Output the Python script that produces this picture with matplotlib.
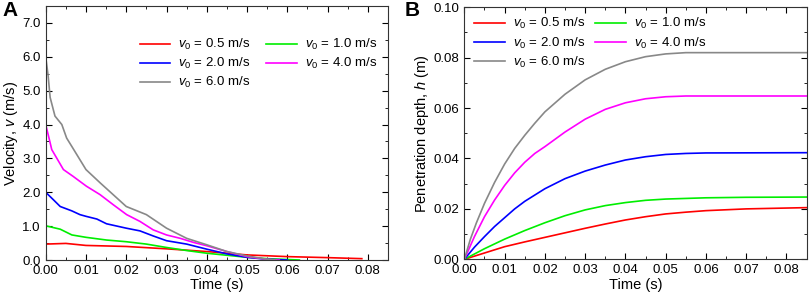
import matplotlib
matplotlib.use('Agg')
import matplotlib.pyplot as plt
from matplotlib.ticker import MultipleLocator, FormatStrFormatter

plt.rcParams['font.family'] = ['Liberation Sans', 'DejaVu Sans']
plt.rcParams['mathtext.fontset'] = 'custom'
plt.rcParams['mathtext.rm'] = 'Liberation Sans'
plt.rcParams['mathtext.it'] = 'Liberation Sans:italic'

labels = ['$v_0$ = 0.5 m/s', '$v_0$ = 1.0 m/s', '$v_0$ = 2.0 m/s',
          '$v_0$ = 4.0 m/s', '$v_0$ = 6.0 m/s']
colors = ['#ff0000', '#00ee00', '#0000ff', '#ff00ff', '#888888']

# panel A: velocity vs time
tA_05 = [0, 0.005, 0.01, 0.02, 0.03, 0.04, 0.05, 0.06, 0.07, 0.0785]
vA_05 = [0.47, 0.49, 0.43, 0.40, 0.33, 0.25, 0.15, 0.10, 0.07, 0.04]
tA_10 = [0, 0.0036, 0.0065, 0.01, 0.0151, 0.02, 0.025, 0.03, 0.035, 0.04, 0.045, 0.05, 0.055, 0.063]
vA_10 = [1.01, 0.91, 0.74, 0.67, 0.59, 0.54, 0.47, 0.37, 0.28, 0.20, 0.14, 0.08, 0.04, 0.0]
tA_20 = [0, 0.0019, 0.0036, 0.0065, 0.0085, 0.01, 0.0127, 0.0151, 0.02, 0.0234, 0.0267,
         0.03, 0.035, 0.04, 0.045, 0.05, 0.055, 0.06]
vA_20 = [2.0, 1.78, 1.58, 1.45, 1.34, 1.29, 1.21, 1.07, 0.94, 0.86, 0.71,
         0.57, 0.47, 0.32, 0.18, 0.08, 0.02, 0.0]
tA_40 = [0, 0.001, 0.0015, 0.0044, 0.0068, 0.0101, 0.0135, 0.0168, 0.0201, 0.0234, 0.0267,
         0.03, 0.0334, 0.0367, 0.04, 0.045, 0.05, 0.055, 0.058]
vA_40 = [4.0, 3.51, 3.26, 2.67, 2.47, 2.18, 1.93, 1.63, 1.34, 1.14, 0.89,
         0.74, 0.64, 0.52, 0.42, 0.25, 0.10, 0.02, 0.0]
tA_60 = [0, 0.0006, 0.0011, 0.0023, 0.004, 0.0052, 0.0065, 0.01, 0.0135, 0.02, 0.025,
         0.03, 0.035, 0.04, 0.045, 0.05, 0.055, 0.057]
vA_60 = [6.0, 5.44, 4.80, 4.25, 4.0, 3.6, 3.35, 2.67, 2.28, 1.58, 1.34,
         0.94, 0.64, 0.45, 0.25, 0.12, 0.02, 0.0]

# panel B: penetration depth vs time
tB_05 = [0, 0.005, 0.01, 0.015, 0.02, 0.025, 0.03, 0.035, 0.04, 0.045, 0.05, 0.055, 0.06, 0.07, 0.085]
hB_05 = [0, 0.0025, 0.0050, 0.0069, 0.0087, 0.0105, 0.0123, 0.0140, 0.0156, 0.0169,
         0.0180, 0.0187, 0.0193, 0.0200, 0.0205]
tB_10 = [0, 0.005, 0.01, 0.015, 0.02, 0.025, 0.03, 0.035, 0.04, 0.045, 0.05, 0.06, 0.07, 0.085]
hB_10 = [0, 0.0042, 0.0080, 0.0114, 0.0145, 0.0173, 0.0196, 0.0213, 0.0225, 0.0234,
         0.0239, 0.0244, 0.0246, 0.0247]
tB_20 = [0, 0.0025, 0.005, 0.0075, 0.01, 0.0125, 0.015, 0.02, 0.025, 0.03, 0.035, 0.04,
         0.045, 0.05, 0.055, 0.06, 0.085]
hB_20 = [0, 0.0048, 0.0090, 0.0130, 0.0165, 0.0200, 0.0230, 0.0280, 0.0320, 0.0350,
         0.0374, 0.0394, 0.0407, 0.0416, 0.0420, 0.0422, 0.0423]
tB_40 = [0, 0.0025, 0.005, 0.0075, 0.01, 0.0125, 0.015, 0.0175, 0.02, 0.025, 0.03, 0.035,
         0.04, 0.045, 0.05, 0.055, 0.06, 0.085]
hB_40 = [0, 0.0090, 0.0169, 0.0235, 0.0293, 0.0343, 0.0385, 0.0420, 0.0447, 0.0505,
         0.0556, 0.0595, 0.0621, 0.0637, 0.0645, 0.0648, 0.0648, 0.0648]
tB_60 = [0, 0.0015, 0.003, 0.005, 0.0075, 0.01, 0.0125, 0.015, 0.0175, 0.02, 0.025, 0.03,
         0.035, 0.04, 0.045, 0.05, 0.055, 0.06, 0.085]
hB_60 = [0, 0.0080, 0.0145, 0.0222, 0.0305, 0.0378, 0.0440, 0.0492, 0.0540, 0.0585,
         0.0655, 0.0712, 0.0754, 0.0784, 0.0804, 0.0815, 0.0820, 0.0820, 0.0820]

fig = plt.figure(figsize=(8.09, 3.0), dpi=100)
axA = fig.add_axes([0.0565, 0.1333, 0.4231, 0.8467])
axB = fig.add_axes([0.574, 0.1357, 0.423, 0.84])

seriesA = [(tA_05, vA_05), (tA_10, vA_10), (tA_20, vA_20), (tA_40, vA_40), (tA_60, vA_60)]
seriesB = [(tB_05, hB_05), (tB_10, hB_10), (tB_20, hB_20), (tB_40, hB_40), (tB_60, hB_60)]

for (t, v), c, lab in zip(seriesA, colors, labels):
    axA.plot(t, v, color=c, lw=1.2, label=lab)
for (t, h), c, lab in zip(seriesB, colors, labels):
    axB.plot(t, h, color=c, lw=1.2, label=lab)

for ax in (axA, axB):
    ax.set_xlim(0, 0.085)
    ax.xaxis.set_major_locator(MultipleLocator(0.01))
    ax.xaxis.set_minor_locator(MultipleLocator(0.005))
    ax.xaxis.set_major_formatter(FormatStrFormatter('%.2f'))
    ax.tick_params(which='both', direction='in', top=True, right=True, labelsize=9.5)
    ax.tick_params(which='major', length=4)
    ax.tick_params(which='minor', length=2.5)
    for s in ax.spines.values():
        s.set_color('#333333')
    ax.set_xlabel('Time (s)', fontsize=10.5, labelpad=1)

axA.set_ylim(0, 7.5)
axA.yaxis.set_major_locator(MultipleLocator(1.0))
axA.yaxis.set_minor_locator(MultipleLocator(0.5))
axA.yaxis.set_major_formatter(FormatStrFormatter('%.1f'))
axA.set_ylabel('Velocity, $v$ (m/s)', fontsize=10.5, labelpad=2)

axB.set_ylim(0, 0.10)
axB.yaxis.set_major_locator(MultipleLocator(0.02))
axB.yaxis.set_minor_locator(MultipleLocator(0.01))
axB.yaxis.set_major_formatter(FormatStrFormatter('%.2f'))
axB.set_ylabel('Penetration depth, $h$ (m)', fontsize=10.5, labelpad=2)

# legend filled row by row: 0.5, 1.0 / 2.0, 4.0 / 6.0
order = [0, 2, 4, 1, 3]
for ax, anchor, cs in ((axA, (0.26, 0.898), 1.2), (axB, (0.014, 0.985), 0.8)):
    h, l = ax.get_legend_handles_labels()
    ax.legend([h[i] for i in order], [l[i] for i in order], ncol=2, frameon=False,
              fontsize=9.5, loc='upper left', bbox_to_anchor=anchor,
              handlelength=2.3, handletextpad=0.6, columnspacing=cs,
              labelspacing=0.3, borderaxespad=0)

fig.text(0.003, 0.995, 'A', fontsize=15, fontweight='bold', va='top')
fig.text(0.5, 0.995, 'B', fontsize=15, fontweight='bold', va='top')

fig.savefig('out.png', dpi=100)
